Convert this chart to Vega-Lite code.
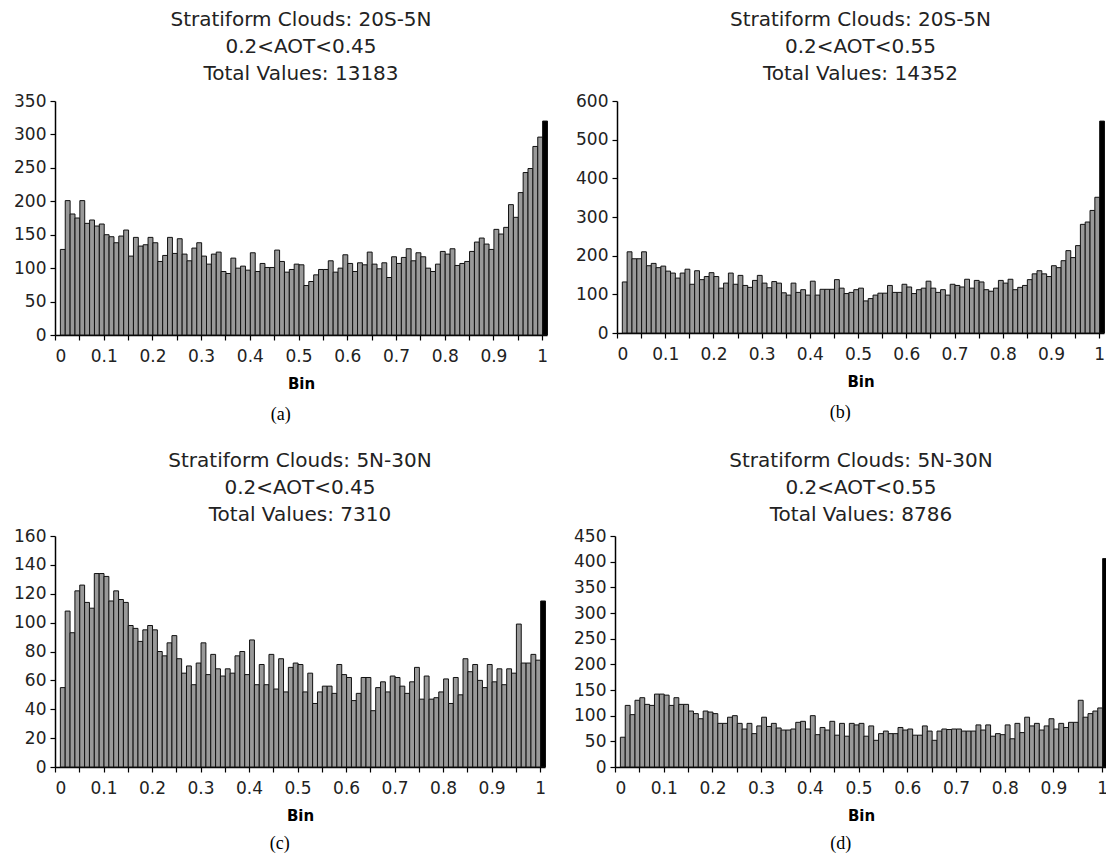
{
  "$schema": "https://vega.github.io/schema/vega-lite/v6.json",
  "padding": {"left": 13, "top": 10, "right": 0, "bottom": 0},
  "background": "white",
  "config": {
    "font": "DejaVu Sans",
    "view": {"stroke": null},
    "axis": {"grid": false, "domainColor": "#000", "domainWidth": 1.5, "tickColor": "#000", "tickWidth": 1.2, "tickSize": 5, "labelColor": "#222", "labelFont": "DejaVu Sans", "labelFontSize": 17, "labelPadding": 4, "titleFont": "DejaVu Sans", "titleFontWeight": "bold", "titleFontSize": 15, "titleColor": "#000", "titlePadding": 6},
    "axisX": {"labelPadding": 8, "titlePadding": 12},
    "title": {"font": "DejaVu Sans", "fontSize": 20, "fontWeight": "normal", "color": "#222", "lineHeight": 27, "anchor": "middle", "offset": 8},
    "bar": {"binSpacing": 0}
  },
  "datasets": {
    "a": [
      {"Bin":0.01,"Count":128},{"Bin":0.02,"Count":201},{"Bin":0.03,"Count":181},{"Bin":0.04,"Count":175},{"Bin":0.05,"Count":201},{"Bin":0.06,"Count":167},{"Bin":0.07,"Count":172},{"Bin":0.08,"Count":163},{"Bin":0.09,"Count":166},{"Bin":0.10,"Count":150},
      {"Bin":0.11,"Count":147},{"Bin":0.12,"Count":138},{"Bin":0.13,"Count":148},{"Bin":0.14,"Count":157},{"Bin":0.15,"Count":118},{"Bin":0.16,"Count":146},{"Bin":0.17,"Count":133},{"Bin":0.18,"Count":135},{"Bin":0.19,"Count":146},{"Bin":0.20,"Count":138},
      {"Bin":0.21,"Count":110},{"Bin":0.22,"Count":119},{"Bin":0.23,"Count":146},{"Bin":0.24,"Count":122},{"Bin":0.25,"Count":144},{"Bin":0.26,"Count":121},{"Bin":0.27,"Count":111},{"Bin":0.28,"Count":130},{"Bin":0.29,"Count":138},{"Bin":0.30,"Count":118},
      {"Bin":0.31,"Count":106},{"Bin":0.32,"Count":121},{"Bin":0.33,"Count":124},{"Bin":0.34,"Count":95},{"Bin":0.35,"Count":92},{"Bin":0.36,"Count":115},{"Bin":0.37,"Count":100},{"Bin":0.38,"Count":103},{"Bin":0.39,"Count":97},{"Bin":0.40,"Count":123},
      {"Bin":0.41,"Count":95},{"Bin":0.42,"Count":107},{"Bin":0.43,"Count":101},{"Bin":0.44,"Count":101},{"Bin":0.45,"Count":127},{"Bin":0.46,"Count":110},{"Bin":0.47,"Count":94},{"Bin":0.48,"Count":98},{"Bin":0.49,"Count":106},{"Bin":0.50,"Count":105},
      {"Bin":0.51,"Count":74},{"Bin":0.52,"Count":80},{"Bin":0.53,"Count":90},{"Bin":0.54,"Count":98},{"Bin":0.55,"Count":98},{"Bin":0.56,"Count":111},{"Bin":0.57,"Count":94},{"Bin":0.58,"Count":100},{"Bin":0.59,"Count":120},{"Bin":0.60,"Count":107},
      {"Bin":0.61,"Count":95},{"Bin":0.62,"Count":108},{"Bin":0.63,"Count":105},{"Bin":0.64,"Count":124},{"Bin":0.65,"Count":106},{"Bin":0.66,"Count":99},{"Bin":0.67,"Count":108},{"Bin":0.68,"Count":86},{"Bin":0.69,"Count":117},{"Bin":0.70,"Count":107},
      {"Bin":0.71,"Count":116},{"Bin":0.72,"Count":129},{"Bin":0.73,"Count":111},{"Bin":0.74,"Count":123},{"Bin":0.75,"Count":117},{"Bin":0.76,"Count":100},{"Bin":0.77,"Count":95},{"Bin":0.78,"Count":106},{"Bin":0.79,"Count":125},{"Bin":0.80,"Count":121},
      {"Bin":0.81,"Count":129},{"Bin":0.82,"Count":104},{"Bin":0.83,"Count":107},{"Bin":0.84,"Count":110},{"Bin":0.85,"Count":125},{"Bin":0.86,"Count":139},{"Bin":0.87,"Count":145},{"Bin":0.88,"Count":136},{"Bin":0.89,"Count":128},{"Bin":0.90,"Count":158},
      {"Bin":0.91,"Count":151},{"Bin":0.92,"Count":161},{"Bin":0.93,"Count":195},{"Bin":0.94,"Count":176},{"Bin":0.95,"Count":213},{"Bin":0.96,"Count":243},{"Bin":0.97,"Count":249},{"Bin":0.98,"Count":282},{"Bin":0.99,"Count":296},{"Bin":1.00,"Count":320}
    ],
    "b": [
      {"Bin":0.01,"Count":132},{"Bin":0.02,"Count":210},{"Bin":0.03,"Count":192},{"Bin":0.04,"Count":192},{"Bin":0.05,"Count":210},{"Bin":0.06,"Count":174},{"Bin":0.07,"Count":180},{"Bin":0.08,"Count":169},{"Bin":0.09,"Count":173},{"Bin":0.10,"Count":160},
      {"Bin":0.11,"Count":155},{"Bin":0.12,"Count":142},{"Bin":0.13,"Count":155},{"Bin":0.14,"Count":165},{"Bin":0.15,"Count":126},{"Bin":0.16,"Count":161},{"Bin":0.17,"Count":138},{"Bin":0.18,"Count":146},{"Bin":0.19,"Count":156},{"Bin":0.20,"Count":146},
      {"Bin":0.21,"Count":116},{"Bin":0.22,"Count":129},{"Bin":0.23,"Count":155},{"Bin":0.24,"Count":126},{"Bin":0.25,"Count":149},{"Bin":0.26,"Count":123},{"Bin":0.27,"Count":118},{"Bin":0.28,"Count":136},{"Bin":0.29,"Count":149},{"Bin":0.30,"Count":129},
      {"Bin":0.31,"Count":117},{"Bin":0.32,"Count":133},{"Bin":0.33,"Count":129},{"Bin":0.34,"Count":104},{"Bin":0.35,"Count":98},{"Bin":0.36,"Count":129},{"Bin":0.37,"Count":105},{"Bin":0.38,"Count":112},{"Bin":0.39,"Count":98},{"Bin":0.40,"Count":134},
      {"Bin":0.41,"Count":98},{"Bin":0.42,"Count":113},{"Bin":0.43,"Count":113},{"Bin":0.44,"Count":113},{"Bin":0.45,"Count":138},{"Bin":0.46,"Count":116},{"Bin":0.47,"Count":102},{"Bin":0.48,"Count":105},{"Bin":0.49,"Count":112},{"Bin":0.50,"Count":116},
      {"Bin":0.51,"Count":83},{"Bin":0.52,"Count":89},{"Bin":0.53,"Count":98},{"Bin":0.54,"Count":103},{"Bin":0.55,"Count":103},{"Bin":0.56,"Count":123},{"Bin":0.57,"Count":105},{"Bin":0.58,"Count":105},{"Bin":0.59,"Count":126},{"Bin":0.60,"Count":119},
      {"Bin":0.61,"Count":102},{"Bin":0.62,"Count":112},{"Bin":0.63,"Count":116},{"Bin":0.64,"Count":134},{"Bin":0.65,"Count":116},{"Bin":0.66,"Count":105},{"Bin":0.67,"Count":112},{"Bin":0.68,"Count":98},{"Bin":0.69,"Count":126},{"Bin":0.70,"Count":123},
      {"Bin":0.71,"Count":119},{"Bin":0.72,"Count":139},{"Bin":0.73,"Count":116},{"Bin":0.74,"Count":136},{"Bin":0.75,"Count":132},{"Bin":0.76,"Count":112},{"Bin":0.77,"Count":108},{"Bin":0.78,"Count":116},{"Bin":0.79,"Count":136},{"Bin":0.80,"Count":129},
      {"Bin":0.81,"Count":139},{"Bin":0.82,"Count":112},{"Bin":0.83,"Count":118},{"Bin":0.84,"Count":123},{"Bin":0.85,"Count":138},{"Bin":0.86,"Count":153},{"Bin":0.87,"Count":161},{"Bin":0.88,"Count":153},{"Bin":0.89,"Count":146},{"Bin":0.90,"Count":174},
      {"Bin":0.91,"Count":169},{"Bin":0.92,"Count":187},{"Bin":0.93,"Count":213},{"Bin":0.94,"Count":195},{"Bin":0.95,"Count":226},{"Bin":0.96,"Count":281},{"Bin":0.97,"Count":287},{"Bin":0.98,"Count":317},{"Bin":0.99,"Count":351},{"Bin":1.00,"Count":548}
    ],
    "c": [
      {"Bin":0.01,"Count":55},{"Bin":0.02,"Count":108},{"Bin":0.03,"Count":93},{"Bin":0.04,"Count":122},{"Bin":0.05,"Count":126},{"Bin":0.06,"Count":114},{"Bin":0.07,"Count":110},{"Bin":0.08,"Count":134},{"Bin":0.09,"Count":134},{"Bin":0.10,"Count":132},
      {"Bin":0.11,"Count":115},{"Bin":0.12,"Count":122},{"Bin":0.13,"Count":116},{"Bin":0.14,"Count":114},{"Bin":0.15,"Count":98},{"Bin":0.16,"Count":96},{"Bin":0.17,"Count":87},{"Bin":0.18,"Count":95},{"Bin":0.19,"Count":98},{"Bin":0.20,"Count":95},
      {"Bin":0.21,"Count":80},{"Bin":0.22,"Count":77},{"Bin":0.23,"Count":86},{"Bin":0.24,"Count":91},{"Bin":0.25,"Count":75},{"Bin":0.26,"Count":65},{"Bin":0.27,"Count":70},{"Bin":0.28,"Count":57},{"Bin":0.29,"Count":72},{"Bin":0.30,"Count":86},
      {"Bin":0.31,"Count":64},{"Bin":0.32,"Count":78},{"Bin":0.33,"Count":68},{"Bin":0.34,"Count":63},{"Bin":0.35,"Count":68},{"Bin":0.36,"Count":65},{"Bin":0.37,"Count":77},{"Bin":0.38,"Count":80},{"Bin":0.39,"Count":64},{"Bin":0.40,"Count":88},
      {"Bin":0.41,"Count":57},{"Bin":0.42,"Count":71},{"Bin":0.43,"Count":57},{"Bin":0.44,"Count":78},{"Bin":0.45,"Count":54},{"Bin":0.46,"Count":75},{"Bin":0.47,"Count":52},{"Bin":0.48,"Count":69},{"Bin":0.49,"Count":72},{"Bin":0.50,"Count":71},
      {"Bin":0.51,"Count":52},{"Bin":0.52,"Count":65},{"Bin":0.53,"Count":44},{"Bin":0.54,"Count":52},{"Bin":0.55,"Count":56},{"Bin":0.56,"Count":56},{"Bin":0.57,"Count":51},{"Bin":0.58,"Count":71},{"Bin":0.59,"Count":64},{"Bin":0.60,"Count":62},
      {"Bin":0.61,"Count":46},{"Bin":0.62,"Count":51},{"Bin":0.63,"Count":62},{"Bin":0.64,"Count":62},{"Bin":0.65,"Count":39},{"Bin":0.66,"Count":55},{"Bin":0.67,"Count":59},{"Bin":0.68,"Count":52},{"Bin":0.69,"Count":63},{"Bin":0.70,"Count":62},
      {"Bin":0.71,"Count":56},{"Bin":0.72,"Count":51},{"Bin":0.73,"Count":59},{"Bin":0.74,"Count":69},{"Bin":0.75,"Count":47},{"Bin":0.76,"Count":63},{"Bin":0.77,"Count":47},{"Bin":0.78,"Count":48},{"Bin":0.79,"Count":52},{"Bin":0.80,"Count":61},
      {"Bin":0.81,"Count":44},{"Bin":0.82,"Count":62},{"Bin":0.83,"Count":50},{"Bin":0.84,"Count":75},{"Bin":0.85,"Count":66},{"Bin":0.86,"Count":71},{"Bin":0.87,"Count":60},{"Bin":0.88,"Count":55},{"Bin":0.89,"Count":71},{"Bin":0.90,"Count":59},
      {"Bin":0.91,"Count":68},{"Bin":0.92,"Count":57},{"Bin":0.93,"Count":68},{"Bin":0.94,"Count":65},{"Bin":0.95,"Count":99},{"Bin":0.96,"Count":72},{"Bin":0.97,"Count":72},{"Bin":0.98,"Count":78},{"Bin":0.99,"Count":74},{"Bin":1.00,"Count":115}
    ],
    "d": [
      {"Bin":0.01,"Count":58},{"Bin":0.02,"Count":120},{"Bin":0.03,"Count":102},{"Bin":0.04,"Count":130},{"Bin":0.05,"Count":135},{"Bin":0.06,"Count":122},{"Bin":0.07,"Count":120},{"Bin":0.08,"Count":142},{"Bin":0.09,"Count":142},{"Bin":0.10,"Count":140},
      {"Bin":0.11,"Count":120},{"Bin":0.12,"Count":135},{"Bin":0.13,"Count":122},{"Bin":0.14,"Count":122},{"Bin":0.15,"Count":109},{"Bin":0.16,"Count":104},{"Bin":0.17,"Count":94},{"Bin":0.18,"Count":109},{"Bin":0.19,"Count":107},{"Bin":0.20,"Count":104},
      {"Bin":0.21,"Count":85},{"Bin":0.22,"Count":85},{"Bin":0.23,"Count":97},{"Bin":0.24,"Count":100},{"Bin":0.25,"Count":85},{"Bin":0.26,"Count":74},{"Bin":0.27,"Count":85},{"Bin":0.28,"Count":65},{"Bin":0.29,"Count":80},{"Bin":0.30,"Count":97},
      {"Bin":0.31,"Count":79},{"Bin":0.32,"Count":85},{"Bin":0.33,"Count":76},{"Bin":0.34,"Count":72},{"Bin":0.35,"Count":72},{"Bin":0.36,"Count":74},{"Bin":0.37,"Count":87},{"Bin":0.38,"Count":89},{"Bin":0.39,"Count":74},{"Bin":0.40,"Count":100},
      {"Bin":0.41,"Count":63},{"Bin":0.42,"Count":77},{"Bin":0.43,"Count":72},{"Bin":0.44,"Count":89},{"Bin":0.45,"Count":62},{"Bin":0.46,"Count":85},{"Bin":0.47,"Count":60},{"Bin":0.48,"Count":85},{"Bin":0.49,"Count":82},{"Bin":0.50,"Count":85},
      {"Bin":0.51,"Count":60},{"Bin":0.52,"Count":80},{"Bin":0.53,"Count":52},{"Bin":0.54,"Count":65},{"Bin":0.55,"Count":70},{"Bin":0.56,"Count":65},{"Bin":0.57,"Count":65},{"Bin":0.58,"Count":77},{"Bin":0.59,"Count":72},{"Bin":0.60,"Count":74},
      {"Bin":0.61,"Count":62},{"Bin":0.62,"Count":62},{"Bin":0.63,"Count":80},{"Bin":0.64,"Count":70},{"Bin":0.65,"Count":52},{"Bin":0.66,"Count":70},{"Bin":0.67,"Count":74},{"Bin":0.68,"Count":73},{"Bin":0.69,"Count":74},{"Bin":0.70,"Count":74},
      {"Bin":0.71,"Count":70},{"Bin":0.72,"Count":70},{"Bin":0.73,"Count":70},{"Bin":0.74,"Count":82},{"Bin":0.75,"Count":72},{"Bin":0.76,"Count":82},{"Bin":0.77,"Count":60},{"Bin":0.78,"Count":65},{"Bin":0.79,"Count":63},{"Bin":0.80,"Count":82},
      {"Bin":0.81,"Count":55},{"Bin":0.82,"Count":85},{"Bin":0.83,"Count":67},{"Bin":0.84,"Count":97},{"Bin":0.85,"Count":80},{"Bin":0.86,"Count":85},{"Bin":0.87,"Count":72},{"Bin":0.88,"Count":80},{"Bin":0.89,"Count":94},{"Bin":0.90,"Count":74},
      {"Bin":0.91,"Count":85},{"Bin":0.92,"Count":77},{"Bin":0.93,"Count":87},{"Bin":0.94,"Count":87},{"Bin":0.95,"Count":130},{"Bin":0.96,"Count":97},{"Bin":0.97,"Count":104},{"Bin":0.98,"Count":109},{"Bin":0.99,"Count":115},{"Bin":1.00,"Count":406}
    ]
  },
  "vconcat": [
    {
      "hconcat": [
        {
          "title": {"text": "(a)", "orient": "bottom", "font": "Liberation Serif", "fontSize": 18, "color": "#000", "offset": 15},
          "vconcat": [{
            "title": {"text": ["Stratiform Clouds: 20S-5N", "0.2<AOT<0.45", "Total Values: 13183"]},
            "width": 492, "height": 234,
            "data": {"name": "a"},
            "mark": {"type": "bar", "stroke": "#111", "strokeWidth": 1},
            "encoding": {
              "x": {"field": "Bin", "type": "quantitative", "bin": {"binned": true, "step": 0.01}, "scale": {"domain": [0, 1.01], "nice": false, "zero": false},
                "axis": {"title": "Bin", "values": [0,0.05,0.1,0.15,0.2,0.25,0.3,0.35,0.4,0.45,0.5,0.55,0.6,0.65,0.7,0.75,0.8,0.85,0.9,0.95,1], "labelExpr": "abs(datum.value*10 - round(datum.value*10)) < 0.001 ? format(datum.value, '~g') : ''"}},
              "y": {"field": "Count", "type": "quantitative", "scale": {"domain": [0, 350], "nice": false}, "axis": {"title": null, "values": [0,50,100,150,200,250,300,350]}},
              "color": {"condition": {"test": "datum.Bin >= 0.995", "value": "#000000"}, "value": "#999999"}
            }
          }]
        },
        {
          "title": {"text": "(b)", "orient": "bottom", "font": "Liberation Serif", "fontSize": 18, "color": "#000", "offset": 15},
          "vconcat": [{
            "title": {"text": ["Stratiform Clouds: 20S-5N", "0.2<AOT<0.55", "Total Values: 14352"]},
            "width": 487, "height": 232,
            "data": {"name": "b"},
            "mark": {"type": "bar", "stroke": "#111", "strokeWidth": 1},
            "encoding": {
              "x": {"field": "Bin", "type": "quantitative", "bin": {"binned": true, "step": 0.01}, "scale": {"domain": [0, 1.01], "nice": false, "zero": false},
                "axis": {"title": "Bin", "values": [0,0.05,0.1,0.15,0.2,0.25,0.3,0.35,0.4,0.45,0.5,0.55,0.6,0.65,0.7,0.75,0.8,0.85,0.9,0.95,1], "labelExpr": "abs(datum.value*10 - round(datum.value*10)) < 0.001 ? format(datum.value, '~g') : ''"}},
              "y": {"field": "Count", "type": "quantitative", "scale": {"domain": [0, 600], "nice": false}, "axis": {"title": null, "values": [0,100,200,300,400,500,600]}},
              "color": {"condition": {"test": "datum.Bin >= 0.995", "value": "#000000"}, "value": "#999999"}
            }
          }]
        }
      ],
      "spacing": 27
    },
    {
      "hconcat": [
        {
          "title": {"text": "(c)", "orient": "bottom", "font": "Liberation Serif", "fontSize": 18, "color": "#000", "offset": 12},
          "vconcat": [{
            "title": {"text": ["Stratiform Clouds: 5N-30N", "0.2<AOT<0.45", "Total Values: 7310"], "offset": 2},
            "width": 490, "height": 231,
            "data": {"name": "c"},
            "mark": {"type": "bar", "stroke": "#111", "strokeWidth": 1},
            "encoding": {
              "x": {"field": "Bin", "type": "quantitative", "bin": {"binned": true, "step": 0.01}, "scale": {"domain": [0, 1.01], "nice": false, "zero": false},
                "axis": {"title": "Bin", "values": [0,0.05,0.1,0.15,0.2,0.25,0.3,0.35,0.4,0.45,0.5,0.55,0.6,0.65,0.7,0.75,0.8,0.85,0.9,0.95,1], "labelExpr": "abs(datum.value*10 - round(datum.value*10)) < 0.001 ? format(datum.value, '~g') : ''"}},
              "y": {"field": "Count", "type": "quantitative", "scale": {"domain": [0, 160], "nice": false}, "axis": {"title": null, "values": [0,20,40,60,80,100,120,140,160]}},
              "color": {"condition": {"test": "datum.Bin >= 0.995", "value": "#000000"}, "value": "#999999"}
            }
          }]
        },
        {
          "title": {"text": "(d)", "orient": "bottom", "font": "Liberation Serif", "fontSize": 18, "color": "#000", "offset": 12},
          "vconcat": [{
            "title": {"text": ["Stratiform Clouds: 5N-30N", "0.2<AOT<0.55", "Total Values: 8786"], "offset": 2},
            "width": 492, "height": 231,
            "data": {"name": "d"},
            "mark": {"type": "bar", "stroke": "#111", "strokeWidth": 1},
            "encoding": {
              "x": {"field": "Bin", "type": "quantitative", "bin": {"binned": true, "step": 0.01}, "scale": {"domain": [0, 1.01], "nice": false, "zero": false},
                "axis": {"title": "Bin", "values": [0,0.05,0.1,0.15,0.2,0.25,0.3,0.35,0.4,0.45,0.5,0.55,0.6,0.65,0.7,0.75,0.8,0.85,0.9,0.95,1], "labelExpr": "abs(datum.value*10 - round(datum.value*10)) < 0.001 ? format(datum.value, '~g') : ''"}},
              "y": {"field": "Count", "type": "quantitative", "scale": {"domain": [0, 450], "nice": false}, "axis": {"title": null, "values": [0,50,100,150,200,250,300,350,400,450]}},
              "color": {"condition": {"test": "datum.Bin >= 0.995", "value": "#000000"}, "value": "#999999"}
            }
          }]
        }
      ],
      "spacing": 27
    }
  ],
  "spacing": 27
}
